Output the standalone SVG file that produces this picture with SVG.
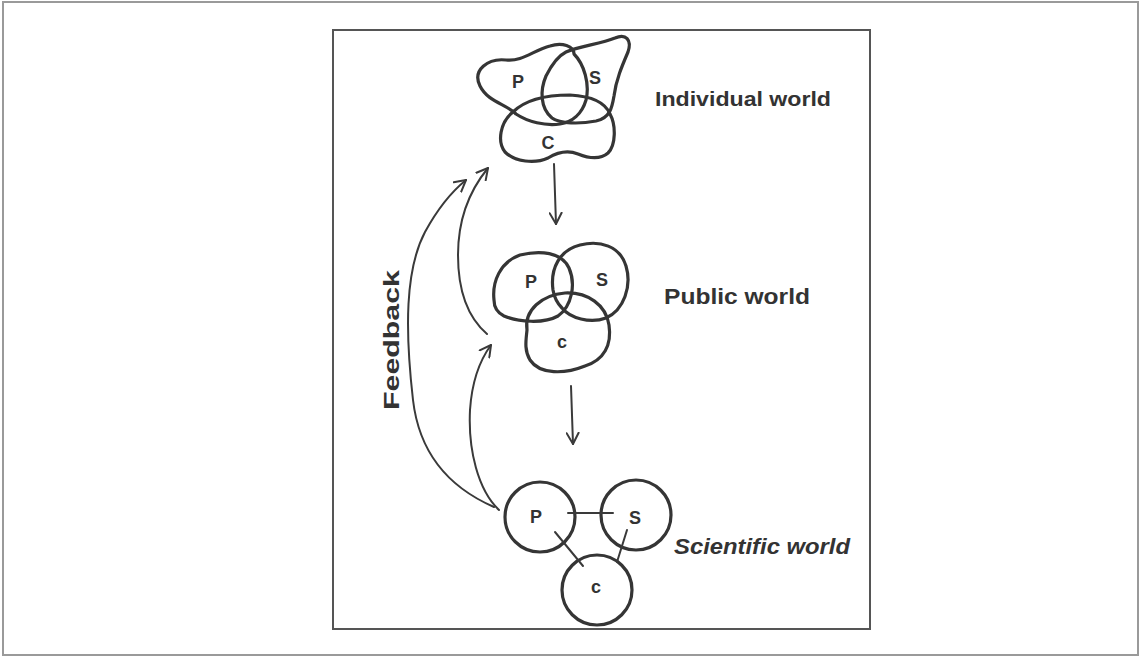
<svg xmlns="http://www.w3.org/2000/svg" width="1140" height="661" viewBox="0 0 1140 661">
  <style>
    .blob{fill:none;stroke:#353535;stroke-width:3.2;stroke-linejoin:round}
    .ln{fill:none;stroke:#3a3a3a;stroke-width:2;stroke-linecap:round}
    .lbl{font-family:"Liberation Sans",Arial,sans-serif;font-weight:bold;fill:#333}
    .let{font-family:"Liberation Sans",Arial,sans-serif;font-weight:bold;fill:#333;font-size:18px;text-anchor:middle}
  </style>
  <defs>
    <marker id="ah" viewBox="0 0 14 14" refX="12" refY="7" markerWidth="14" markerHeight="14" markerUnits="userSpaceOnUse" orient="auto">
      <polyline points="1,1 12,7 1,13" fill="none" stroke="#3a3a3a" stroke-width="2" stroke-linecap="round" stroke-linejoin="round"/>
    </marker>
  </defs>
  <rect x="0" y="0" width="1140" height="661" fill="#fff"/>
  <rect id="page-frame" x="3" y="2" width="1135" height="653" fill="none" stroke="#9a9a9a" stroke-width="2"/>
  <rect id="figure-frame" x="333" y="30" width="537" height="599" fill="none" stroke="#555" stroke-width="2"/>

  <g id="individual-world">
    <path class="blob" d="M 480,86 C 472,70 488,58 506,60 C 522,62 534,50 550,46 C 562,42 574,46 574,54 C 584,64 590,84 586,100 C 582,114 572,122 560,124 C 545,126 528,122 516,114 C 506,104 488,102 480,86 Z"/>
    <path class="blob" d="M 566,52 C 580,46 600,44 615,38 C 626,33 632,40 628,52 C 622,66 616,80 614,96 C 612,108 610,118 596,121 C 580,124 560,124 552,118 C 540,108 540,90 546,76 C 552,64 558,56 566,52 Z"/>
    <path class="blob" d="M 513,112 C 525,100 545,95 570,95 C 590,96 605,102 610,114 C 616,125 616,145 608,153 C 600,160 588,158 578,154 C 568,150 558,152 548,158 C 535,164 515,162 505,152 C 497,142 500,122 513,112 Z"/>
    <text class="let" x="518" y="88">P</text>
    <text class="let" x="595" y="84">S</text>
    <text class="let" x="548" y="149">C</text>
    <text class="lbl" x="655" y="106" font-size="20" textLength="176" lengthAdjust="spacingAndGlyphs">Individual world</text>
  </g>

  <g id="public-world">
    <path class="blob" d="M 494,300 C 492,282 500,262 520,255 C 540,250 562,252 569,268 C 576,284 572,306 558,316 C 544,324 518,322 504,316 C 496,312 494,306 494,300 Z"/>
    <path class="blob" d="M 553,290 C 550,268 560,250 580,245 C 600,240 620,246 626,266 C 632,286 624,310 606,318 C 590,324 570,318 562,308 C 556,302 554,296 553,290 Z"/>
    <path class="blob" d="M 527,330 C 524,310 542,295 565,293 C 588,292 606,305 609,325 C 612,345 604,360 585,366 C 565,374 540,375 530,360 C 524,350 526,340 527,330 Z"/>
    <text class="let" x="531" y="288">P</text>
    <text class="let" x="602" y="286">S</text>
    <text class="let" x="562" y="348">c</text>
    <text class="lbl" x="664" y="304" font-size="22" textLength="146" lengthAdjust="spacingAndGlyphs">Public world</text>
  </g>

  <g id="scientific-world">
    <circle class="blob" cx="540" cy="517" r="35"/>
    <circle class="blob" cx="636" cy="515" r="35"/>
    <circle class="blob" cx="597" cy="590" r="35"/>
    <text class="let" x="536" y="523">P</text>
    <text class="let" x="635" y="524">S</text>
    <text class="let" x="596" y="593">c</text>
    <text class="lbl" x="674" y="554" font-size="22" font-style="italic" textLength="176" lengthAdjust="spacingAndGlyphs">Scientific world</text>
  </g>

  <g id="feedback-label">
    <text class="lbl" font-size="22" text-anchor="middle" textLength="140" lengthAdjust="spacingAndGlyphs" transform="translate(399,340) rotate(-90)">Feedback</text>
  </g>

  <g id="connectors">
    <path class="ln" d="M 554,164 L 556,224" marker-end="url(#ah)"/>
    <path class="ln" d="M 571,386 L 573,444" marker-end="url(#ah)"/>
    <path class="ln" d="M 494,507 C 455,490 420,460 413,400 C 405,330 405,270 425,232 C 437,210 450,193 466,180" marker-end="url(#ah)"/>
    <path class="ln" d="M 499,510 C 478,490 468,450 470,410 C 472,380 480,360 491,345" marker-end="url(#ah)"/>
    <path class="ln" d="M 487,334 C 465,315 458,285 458,255 C 458,220 470,190 488,168" marker-end="url(#ah)"/>
    <path class="ln" stroke-width="2.5" d="M 568,513 L 613,513"/>
    <path class="ln" stroke-width="2.5" d="M 555,532 L 583,566"/>
    <path class="ln" stroke-width="2.5" d="M 627,530 L 617,562"/>
  </g>
</svg>
